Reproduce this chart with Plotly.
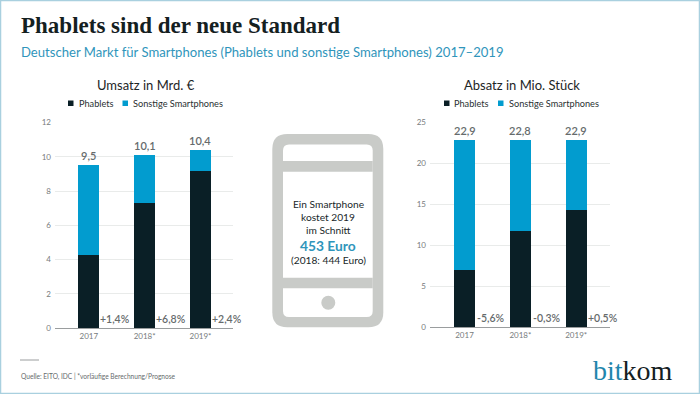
import plotly.graph_objects as go

years = ["2017", "2018*", "2019*"]
umsatz_phablets = [4.3, 7.3, 9.15]
umsatz_sonstige = [5.2, 2.8, 1.25]
umsatz_totals = [9.5, 10.1, 10.4]
umsatz_total_labels = ["9,5", "10,1", "10,4"]
umsatz_changes = ["+1,4%", "+6,8%", "+2,4%"]
absatz_phablets = [7.0, 11.7, 14.3]
absatz_sonstige = [15.9, 11.2, 8.6]
absatz_totals = [22.9, 22.9, 22.9]
absatz_total_labels = ["22,9", "22,8", "22,9"]
absatz_changes = ["-5,6%", "-0,3%", "+0,5%"]

W, H = 700, 394
DARK = "#0a1f26"
BLUE = "#029ccf"
GREY = "#666b6c"
ICON = "#c9cbc8"
FONT = "Lato"


def px(x):
    return x / W


def py(y):
    return 1 - y / H


fig = go.Figure()
for vals, name, col in [(umsatz_phablets, "Phablets", DARK), (umsatz_sonstige, "Sonstige Smartphones", BLUE)]:
    fig.add_bar(x=years, y=vals, name=name, marker_color=col, marker_line_width=0,
                width=0.376, xaxis="x", yaxis="y", showlegend=False)
for vals, name, col in [(absatz_phablets, "Phablets", DARK), (absatz_sonstige, "Sonstige Smartphones", BLUE)]:
    fig.add_bar(x=years, y=vals, name=name, marker_color=col, marker_line_width=0,
                width=0.376, xaxis="x2", yaxis="y2", showlegend=False)

ann = []


def text(x, y, s, size, color=GREY, anchor="center", family=FONT):
    if anchor == "left":
        x -= 1.5
    ann.append(dict(x=px(x), y=py(y), xref="paper", yref="paper", text=s, showarrow=False,
                    xanchor=anchor, yanchor="middle", align=anchor,
                    font=dict(size=size, color=color, family=family)))


for xr, yr, totals, labels, changes in [
    ("x", "y", umsatz_totals, umsatz_total_labels, umsatz_changes),
    ("x2", "y2", absatz_totals, absatz_total_labels, absatz_changes),
]:
    for i in range(3):
        ann.append(dict(x=i, y=totals[i], xref=xr, yref=yr, text=labels[i], showarrow=False,
                        yanchor="bottom", yshift=1, font=dict(size=11, color=GREY, family=FONT, weight=600)))
        ann.append(dict(x=i, y=0, xref=xr, yref=yr, text=changes[i], showarrow=False,
                        xshift=26.5, yanchor="middle", yshift=9,
                        font=dict(size=10.5, color=GREY, family=FONT, weight=600)))

text(20, 26, "<b>Phablets sind der neue Standard</b>", 23, "#14201f", "left", "Liberation Serif")
text(20, 52, "Deutscher Markt für Smartphones (Phablets und sonstige Smartphones) 2017–2019", 13.1, "#2f95bb", "left")
text(146, 85, "Umsatz in Mrd. €", 13, "#1d2526")
text(522, 85, "Absatz in Mio. Stück", 13, "#1d2526")
for lx in [(78, 132), (453, 508)]:
    text(lx[0], 103, "Phablets", 9.2, "#2a3132", "left")
    text(lx[1], 103, "Sonstige Smartphones", 9.2, "#2a3132", "left")
for s, y in [("Ein Smartphone", 204), ("kostet 2019", 217), ("im Schnitt", 230), ("(2018: 444 Euro)", 260)]:
    text(328, y, s, 10.2, "#20282a")
text(328, 245, "<b>453 Euro</b>", 13.8, "#2f95bb")
text(20, 376, "Quelle: EITO, IDC | *vorläufige Berechnung/Prognose", 6.6, "#666b6c", "left")
text(675, 370, "<span style='color:#1f86ad'>bit</span>kom", 28, "#14201f", "right", "Liberation Serif")


def rrect(x0, y0, x1, y1, r, color):
    a, b, c, d = px(x0), py(y0), px(x1), py(y1)
    rx, ry = r / W, r / H
    path = (f"M{a+rx},{b} L{c-rx},{b} Q{c},{b} {c},{b-ry} L{c},{d+ry} Q{c},{d} {c-rx},{d} "
            f"L{a+rx},{d} Q{a},{d} {a},{d+ry} L{a},{b-ry} Q{a},{b} {a+rx},{b} Z")
    return dict(type="path", path=path, xref="paper", yref="paper", fillcolor=color, line_width=0, layer="below")


def box(x0, y0, x1, y1, color):
    return dict(type="rect", x0=px(x0), x1=px(x1), y0=py(y0), y1=py(y1), xref="paper", yref="paper",
                fillcolor=color, line_width=0, layer="below")


shapes = [
    dict(type="rect", x0=0.5 / W, x1=1 - 0.5 / W, y0=0.5 / H, y1=1 - 0.5 / H, xref="paper", yref="paper",
         line=dict(color="#a9d0df", width=1.5), fillcolor="rgba(0,0,0,0)", layer="above"),
    rrect(272.3, 134, 383.3, 327.3, 15, ICON),
    rrect(283, 144.5, 372.7, 317, 6, "white"),
    box(283, 161, 372.7, 171.7, ICON),
    box(283, 277.7, 372.7, 288.3, ICON),
    dict(type="circle", x0=px(321.3), x1=px(335.3), y0=py(295.7), y1=py(309.7), xref="paper", yref="paper",
         fillcolor=ICON, line_width=0, layer="below"),
    dict(type="line", x0=px(20), x1=px(39), y0=py(360), y1=py(360), xref="paper", yref="paper",
         line=dict(color="#9a9d9e", width=1)),
]
for x0, col in [(68, DARK), (122.5, BLUE), (444, DARK), (498, BLUE)]:
    shapes.append(box(x0, 100.5, x0 + 5.5, 106, col))

tickfont = dict(size=8, color="#777b7c", family=FONT)


def yaxis(rng, dtick, dom, anchor):
    return dict(range=rng, dtick=dtick, domain=dom, anchor=anchor, gridcolor="#e9ebea", gridwidth=1,
                zeroline=False, showline=False, ticks="", tickfont=tickfont, ticklen=0, fixedrange=True,
                ticklabelstandoff=3)


def xaxis(rng, dom, anchor):
    return dict(type="category", range=rng, domain=dom, anchor=anchor, showline=True, linecolor="#9a9d9e",
                linewidth=1, ticks="", showgrid=False, tickfont=tickfont, fixedrange=True)


fig.update_layout(
    width=W, height=H, barmode="stack", margin=dict(l=0, r=0, t=0, b=0, autoexpand=False),
    paper_bgcolor="white", plot_bgcolor="rgba(0,0,0,0)", showlegend=False,
    xaxis=xaxis([-0.605, 2.582], [px(55), px(233)], "y"),
    yaxis=yaxis([0, 12], 2, [py(328.3), py(122.4)], "x"),
    xaxis2=xaxis([-0.618, 2.605], [px(430), px(610)], "y2"),
    yaxis2=yaxis([0, 25], 5, [py(327.3), py(122.3)], "x2"),
    annotations=ann, shapes=shapes,
)
fig.write_html("out.html", config=dict(displayModeBar=False),
               post_script="document.body.style.margin='0';document.body.style.overflow='hidden';")
